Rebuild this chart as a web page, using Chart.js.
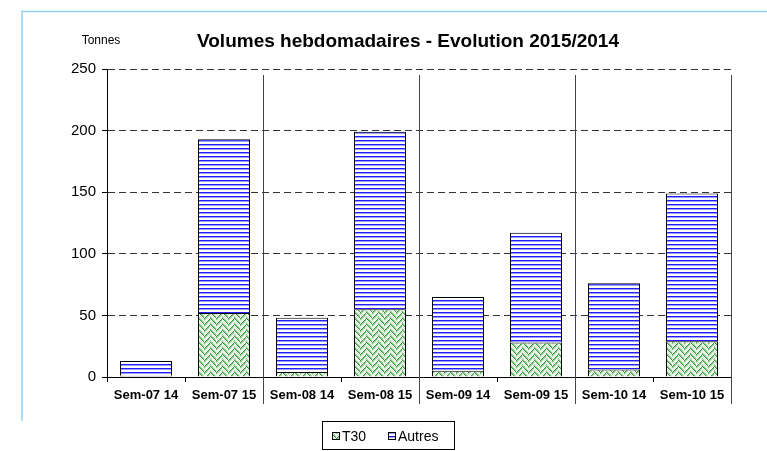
<!DOCTYPE html>
<html>
<head>
<meta charset="utf-8">
<script src="https://cdn.jsdelivr.net/npm/chart.js@4.4.0/dist/chart.umd.min.js"></script>
<style>
    html, body { margin: 0; padding: 0; background: #fff; }
    #wrap { width: 767px; height: 451px; }
</style>
</head>
<body>
<div id="wrap"><canvas id="volChart" width="767" height="451"></canvas></div>
<script>
// weekly volumes (tonnes)
const categories = ['Sem-07 14', 'Sem-07 15', 'Sem-08 14', 'Sem-08 15', 'Sem-09 14', 'Sem-09 15', 'Sem-10 14', 'Sem-10 15'];
const t30Values = [1, 52, 4, 55, 5, 28, 6, 29];
const autresValues = [12, 141, 44, 144, 60, 89, 70, 120];
const seriesNames = ['T30', 'Autres'];
const yMax = 250;
const yStep = 50;

const FONT = "'Liberation Sans', Arial, sans-serif";

function makeStripes() {
    const c = document.createElement('canvas');
    c.width = 4; c.height = 4;
    const g = c.getContext('2d');
    g.fillStyle = '#ffffff'; g.fillRect(0, 0, 4, 4);
    g.fillStyle = '#1f1fff'; g.fillRect(0, 0, 4, 1);
    g.fillStyle = '#9a9aff'; g.fillRect(0, 1, 4, 1);
    return g.createPattern(c, 'repeat');
}

function makeZigzag() {
    const c = document.createElement('canvas');
    c.width = 12; c.height = 12;
    const g = c.getContext('2d');
    const cols = ['#3a963a', '#8fcb8f', '#b8e0b8', '#ffffff', '#d6edd6', '#ffffff'];
    for (let y = 0; y < 12; y++) {
        for (let x = 0; x < 12; x++) {
            const band = Math.floor(x / 6);
            const v = band === 0 ? (x + y) % 6 : (x - y + 12) % 6;
            g.fillStyle = cols[v];
            g.fillRect(x, y, 1, 1);
        }
    }
    return g.createPattern(c, 'repeat');
}

const t30Fill = makeZigzag();
const autresFill = makeStripes();

const decor = {
    id: 'decor',
    beforeDraw(chart) {
        const ctx = chart.ctx;
        ctx.save();
        ctx.fillStyle = '#fff';
        ctx.fillRect(0, 0, chart.width, chart.height);
        // light blue frame
        ctx.strokeStyle = '#8fd4f2';
        ctx.lineWidth = 1.5;
        ctx.beginPath();
        ctx.moveTo(22, 421);
        ctx.lineTo(22, 11.5);
        ctx.lineTo(chart.width, 11.5);
        ctx.stroke();
        // title
        ctx.fillStyle = '#000';
        ctx.textAlign = 'center';
        ctx.textBaseline = 'middle';
        ctx.font = 'bold 19px ' + FONT;
        ctx.fillText('Volumes hebdomadaires - Evolution 2015/2014', 408, 42);
        ctx.font = '12px ' + FONT;
        ctx.fillText('Tonnes', 101, 41);
        ctx.restore();
    },
    afterDatasetsDraw(chart) {
        const ctx = chart.ctx;
        const x = chart.scales.x;
        const area = chart.chartArea;
        ctx.save();
        ctx.strokeStyle = '#444';
        ctx.lineWidth = 1;
        for (let i = 2; i <= categories.length; i += 2) {
            let px;
            if (i < categories.length) {
                px = (x.getPixelForValue(i - 1) + x.getPixelForValue(i)) / 2;
            } else {
                px = area.right;
            }
            px = Math.round(px) + 0.5;
            ctx.beginPath();
            ctx.moveTo(px, area.top + 6);
            ctx.lineTo(px, 404);
            ctx.stroke();
        }
        ctx.restore();
    },
    afterDraw(chart) {
        const ctx = chart.ctx;
        ctx.save();
        // legend box
        ctx.strokeStyle = '#000';
        ctx.lineWidth = 1;
        ctx.strokeRect(322.5, 421.5, 132, 28);
        ctx.font = '14px ' + FONT;
        ctx.fillStyle = '#000';
        ctx.textBaseline = 'middle';
        const items = [
            { label: seriesNames[0], fill: t30Fill, x: 332 },
            { label: seriesNames[1], fill: autresFill, x: 388 }
        ];
        items.forEach(function (it) {
            ctx.fillStyle = it.fill;
            ctx.fillRect(it.x, 432, 8, 8);
            ctx.strokeStyle = '#000';
            ctx.strokeRect(it.x + 0.5, 432.5, 7, 7);
            ctx.fillStyle = '#000';
            ctx.fillText(it.label, it.x + 10, 437);
        });
        ctx.restore();
    }
};

Chart.defaults.font.family = FONT;
Chart.defaults.color = '#000';

new Chart(document.getElementById('volChart').getContext('2d'), {
    type: 'bar',
    data: {
        labels: categories,
        datasets: [{
            label: seriesNames[0],
            data: t30Values,
            backgroundColor: t30Fill,
            borderColor: '#000',
            borderWidth: 1
        }, {
            label: seriesNames[1],
            data: autresValues,
            backgroundColor: autresFill,
            borderColor: '#000',
            borderWidth: 1
        }]
    },
    options: {
        responsive: false,
        animation: false,
        events: [],
        layout: { padding: { left: 0, right: 36, top: 69, bottom: 0 } },
        datasets: {
            bar: { categoryPercentage: 1, barPercentage: 0.667 }
        },
        plugins: {
            legend: { display: false },
            title: { display: false },
            tooltip: { enabled: false }
        },
        scales: {
            x: {
                stacked: true,
                afterFit(scale) { scale.height = 74; },
                grid: {
                    display: true,
                    offset: true,
                    drawOnChartArea: false,
                    drawTicks: true,
                    tickLength: 5,
                    color: '#000'
                },
                border: { display: true, color: '#000', width: 1 },
                ticks: {
                    padding: 6,
                    font: { size: 13, weight: 'bold' },
                    maxRotation: 0,
                    autoSkip: false
                }
            },
            y: {
                stacked: true,
                min: 0,
                max: yMax,
                afterFit(scale) { scale.width = 107; },
                grid: {
                    color: function (ctx) {
                        return ctx.tick && ctx.tick.value === 0 ? 'rgba(0,0,0,0)' : '#333';
                    },
                    tickColor: '#000',
                    tickLength: 5,
                    lineWidth: 1
                },
                border: { display: true, color: '#000', width: 1, dash: [7, 4] },
                ticks: {
                    stepSize: yStep,
                    padding: 6,
                    font: { size: 15 }
                }
            }
        }
    },
    plugins: [decor]
});
</script>
</body>
</html>
